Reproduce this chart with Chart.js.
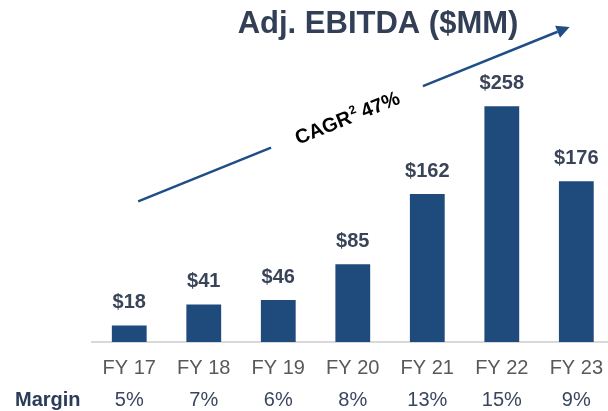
<!DOCTYPE html>
<html>
<head>
<meta charset="utf-8">
<script src="https://cdn.jsdelivr.net/npm/chart.js@4"></script>
<style>
  html, body { margin: 0; padding: 0; background: #fff; overflow: hidden; }
  #wrap { width: 617px; height: 411px; }
</style>
</head>
<body>
<div id="wrap"><canvas id="ebitdaChart" width="617" height="411"></canvas></div>
<script>
// Adj. EBITDA by fiscal year ($MM) and margin
const years = ["FY 17", "FY 18", "FY 19", "FY 20", "FY 21", "FY 22", "FY 23"];
const ebitda = [18, 41, 46, 85, 162, 258, 176];
const margins = ["5%", "7%", "6%", "8%", "13%", "15%", "9%"];
const cagrText = "47%";
// arrow ends in data units (category index, $MM)
const arrowFrom = { x: 0.12, y: 154 };
const arrowTo = { x: 5.91, y: 345 };

const navy = "#1F4A7C";
const labelFont = "'Liberation Sans', Arial, sans-serif";

// values above bars, margin row, title and CAGR arrow
const decorations = {
  id: "decorations",
  afterDatasetsDraw(chart) {
    const ctx = chart.ctx;
    const xs = chart.scales.x;
    const ys = chart.scales.y;
    ctx.save();

    // bar value labels
    ctx.font = "bold 20px " + labelFont;
    ctx.fillStyle = "#3A4458";
    ctx.textAlign = "center";
    ctx.textBaseline = "middle";
    chart.getDatasetMeta(0).data.forEach((bar, i) => {
      ctx.fillText("$" + ebitda[i], bar.x, bar.y - 23);
    });

    // margin row
    ctx.textBaseline = "alphabetic";
    ctx.font = "bold 20px " + labelFont;
    ctx.fillStyle = "#2B3B5A";
    ctx.textAlign = "left";
    ctx.fillText("Margin", 15, 406);
    ctx.font = "20px " + labelFont;
    ctx.fillStyle = "#3A4660";
    ctx.textAlign = "center";
    margins.forEach((m, i) => {
      ctx.fillText(m, xs.getPixelForValue(i), 406);
    });

    // title
    ctx.font = "bold 31px " + labelFont;
    ctx.fillStyle = "#323F56";
    ctx.fillText("Adj. EBITDA ($MM)", 378, 33);

    // CAGR arrow with a gap for the text
    const x0 = xs.getPixelForValue(arrowFrom.x), y0 = ys.getPixelForValue(arrowFrom.y);
    const x1 = xs.getPixelForValue(arrowTo.x), y1 = ys.getPixelForValue(arrowTo.y);
    const ang = Math.atan2(y1 - y0, x1 - x0);
    const gapStart = 0.308, gapEnd = 0.66;
    ctx.strokeStyle = "#1F4E87";
    ctx.lineWidth = 2.5;
    ctx.beginPath();
    ctx.moveTo(x0, y0);
    ctx.lineTo(x0 + (x1 - x0) * gapStart, y0 + (y1 - y0) * gapStart);
    ctx.moveTo(x0 + (x1 - x0) * gapEnd, y0 + (y1 - y0) * gapEnd);
    const headLen = 13;
    const bx = x1 - Math.cos(ang) * headLen, by = y1 - Math.sin(ang) * headLen;
    ctx.lineTo(bx, by);
    ctx.stroke();
    ctx.fillStyle = "#1F4E87";
    ctx.beginPath();
    ctx.moveTo(x1, y1);
    ctx.lineTo(bx + Math.sin(ang) * 6.5, by - Math.cos(ang) * 6.5);
    ctx.lineTo(bx - Math.sin(ang) * 6.5, by + Math.cos(ang) * 6.5);
    ctx.closePath();
    ctx.fill();

    // rotated CAGR label
    const mid = (gapStart + gapEnd) / 2;
    ctx.translate(x0 + (x1 - x0) * mid, y0 + (y1 - y0) * mid);
    ctx.rotate(ang);
    ctx.fillStyle = "#000";
    ctx.textAlign = "left";
    ctx.textBaseline = "middle";
    ctx.font = "bold 20px " + labelFont;
    const w1 = ctx.measureText("CAGR").width;
    ctx.font = "bold 12px " + labelFont;
    const w2 = ctx.measureText("2").width;
    ctx.font = "bold 20px " + labelFont;
    const w3 = ctx.measureText(" " + cagrText).width;
    let cx = -(w1 + w2 + w3) / 2;
    ctx.fillText("CAGR", cx, 2);
    cx += w1;
    ctx.font = "bold 12px " + labelFont;
    ctx.fillText("2", cx + 1, -4);
    cx += w2;
    ctx.font = "bold 20px " + labelFont;
    ctx.fillText(" " + cagrText, cx, 2);
    ctx.restore();
  }
};

new Chart(document.getElementById("ebitdaChart"), {
  type: "bar",
  data: {
    labels: years,
    datasets: [{
      data: ebitda,
      backgroundColor: navy,
      barPercentage: 0.467,
      categoryPercentage: 1
    }]
  },
  options: {
    responsive: false,
    animation: false,
    layout: { padding: { left: 92, right: 0, top: 68, bottom: 17 } },
    plugins: { legend: { display: false }, tooltip: { enabled: false } },
    scales: {
      x: {
        grid: { display: false, drawTicks: false },
        border: { color: "#D9D9D9", width: 2 },
        ticks: {
          color: "#595959",
          padding: 14,
          font: { family: labelFont, size: 20 }
        }
      },
      y: {
        display: false,
        min: 0,
        max: 300
      }
    }
  },
  plugins: [decorations]
});
</script>
</body>
</html>
